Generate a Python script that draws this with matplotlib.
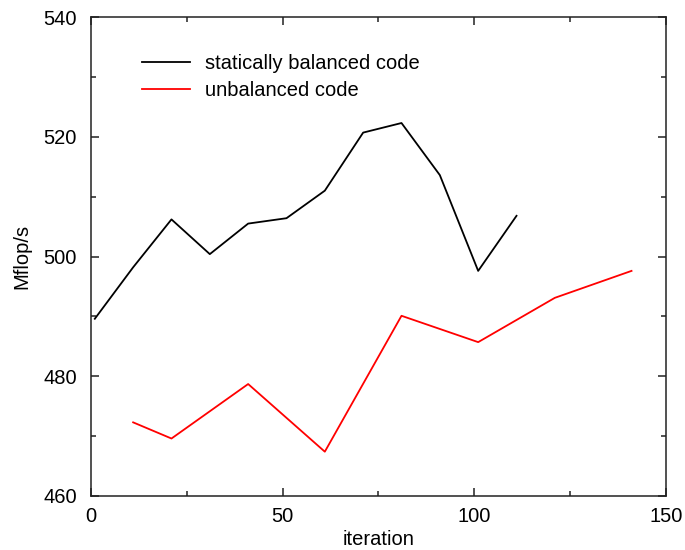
import matplotlib
matplotlib.use("Agg")
import matplotlib.pyplot as plt
from matplotlib.ticker import MultipleLocator

plt.rcParams['font.family'] = ['Liberation Sans', 'DejaVu Sans']

# iteration / Mflop/s for both runs
balanced_iter = [1, 11, 21, 31, 41, 51, 61, 71, 81, 91, 101, 111]
balanced_mflops = [489.6, 498.2, 506.2, 500.4, 505.5, 506.4, 511.0, 520.7, 522.3, 513.6, 497.6, 506.8]

unbalanced_iter = [11, 21, 41, 61, 81, 101, 121, 141]
unbalanced_mflops = [472.3, 469.6, 478.7, 467.4, 490.1, 485.7, 493.1, 497.6]

fig = plt.figure(figsize=(6.85, 5.5), dpi=100)
ax = fig.add_axes([0.1328, 0.0982, 0.8395, 0.8708])

ax.plot(balanced_iter, balanced_mflops, color='black', lw=1.3, label='statically balanced code')
ax.plot(unbalanced_iter, unbalanced_mflops, color='red', lw=1.3, label='unbalanced code')

ax.set_xlim(0, 150)
ax.set_ylim(460, 540)
ax.xaxis.set_major_locator(MultipleLocator(50))
ax.xaxis.set_minor_locator(MultipleLocator(25))
ax.yaxis.set_major_locator(MultipleLocator(20))
ax.yaxis.set_minor_locator(MultipleLocator(10))
ax.tick_params(which='both', direction='in', top=True, right=True, labelsize=14.5, width=1.1, color='#222222')
ax.tick_params(which='major', length=6)
ax.tick_params(which='minor', length=3.5)
ax.tick_params(axis='x', which='major', pad=8)
ax.tick_params(axis='y', which='major', pad=10)
for s in ax.spines.values():
    s.set_linewidth(1.1)
    s.set_color('#222222')

ax.set_xlabel('iteration', fontsize=14.5, labelpad=3)
ax.set_ylabel('Mflop/s', fontsize=14.5, labelpad=9)

ax.legend(loc='upper left', bbox_to_anchor=(0.075, 0.94), frameon=False, fontsize=14.5,
          handlelength=2.4, handletextpad=0.7, labelspacing=0.4, borderaxespad=0)

fig.savefig('out.png', dpi=100)
